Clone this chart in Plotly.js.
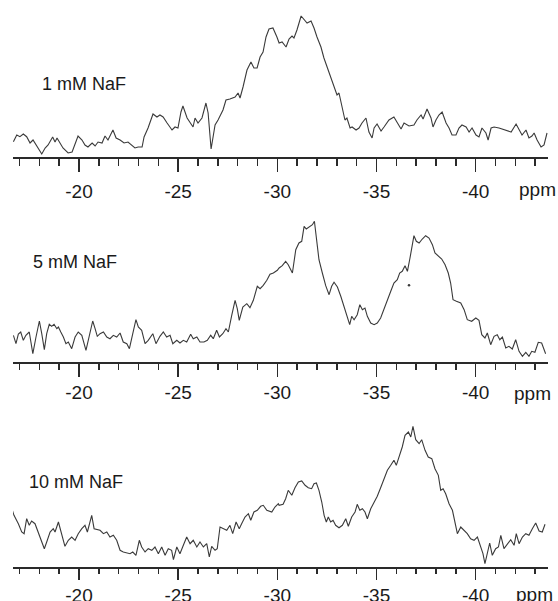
<!DOCTYPE html>
<html>
<head>
<meta charset="utf-8">
<script src="https://cdn.plot.ly/plotly-3.0.1.min.js"></script>
<style>html,body{margin:0;padding:0;background:#fff;}#chart{width:558px;height:601px;}</style>
</head>
<body>
<div id="chart"></div>
<script>
// Spectrum 1 mM NaF: chemical shift (ppm) and intensity (a.u.)
const ppm1 = [-16.69,-16.86,-17.02,-17.19,-17.36,-17.53,-17.68,-17.87,-18.12,-18.29,-18.44,-18.67,-18.79,-18.89,-19.04,-19.19,-19.45,-19.65,-19.95,-20.15,-20.30,-20.45,-20.66,-20.81,-20.96,-21.16,-21.31,-21.46,-21.71,-21.87,-22.07,-22.27,-22.47,-22.67,-22.82,-22.98,-23.18,-23.28,-23.48,-23.73,-23.93,-24.08,-24.24,-24.44,-24.69,-24.84,-24.99,-25.14,-25.24,-25.45,-25.60,-25.75,-25.85,-26.00,-26.20,-26.40,-26.51,-26.66,-26.86,-27.01,-27.26,-27.41,-27.61,-27.87,-28.02,-28.12,-28.27,-28.47,-28.67,-28.82,-28.98,-29.13,-29.28,-29.43,-29.58,-29.78,-29.98,-30.09,-30.24,-30.44,-30.59,-30.74,-30.84,-30.99,-31.20,-31.30,-31.40,-31.50,-31.70,-31.85,-32.00,-32.20,-32.35,-32.51,-32.71,-32.86,-33.01,-33.11,-33.26,-33.41,-33.51,-33.67,-33.77,-33.97,-34.12,-34.27,-34.47,-34.62,-34.78,-34.88,-35.03,-35.23,-35.38,-35.63,-35.88,-36.04,-36.24,-36.39,-36.64,-36.89,-37.04,-37.25,-37.35,-37.55,-37.75,-37.85,-38.00,-38.15,-38.31,-38.51,-38.66,-38.81,-39.01,-39.16,-39.31,-39.52,-39.67,-39.82,-40.02,-40.17,-40.32,-40.52,-40.63,-40.78,-40.93,-41.18,-41.53,-41.79,-42.04,-42.19,-42.34,-42.54,-42.69,-42.84,-42.95,-43.10,-43.30,-43.45,-43.60];
const int1 = [15.3,22,20.3,23,20.3,14,17,10.3,3,9,12,20,15,19,14,9,4,5,21,17,12,10,14,11,15,14,21,17,27,19,17,14,15,11,9,10,10,20,29,43,40,42,40,34,27,30,29,45,51,39,35,30,39,34,39,54,44,8,32,37,47,57,58,60,64,59,70,87,95,89,89,100,105,120,128,129,120,114,115,110,118,121,119,127,141,139,137,134,136,129,120,110,99,90,80,70,62,64,50,37,39,29,30,27,29,34,39,25,19,29,33,26,30,37,40,34,28,34,31,32,37,42,38,48,39,30,37,42,45,34,29,22,22,29,32,30,25,29,22,20,29,24,17,29,30,29,27,25,33,27,22,27,19,21,24,17,10,12,24];

// Spectrum 5 mM NaF
const ppm2 = [-16.69,-16.82,-16.94,-17.06,-17.19,-17.32,-17.49,-17.67,-17.83,-18.00,-18.12,-18.25,-18.37,-18.50,-18.62,-18.74,-18.88,-18.96,-19.08,-19.21,-19.34,-19.46,-19.63,-19.80,-19.96,-20.14,-20.35,-20.52,-20.69,-20.81,-20.92,-21.06,-21.23,-21.40,-21.56,-21.73,-21.90,-22.07,-22.23,-22.41,-22.54,-22.71,-22.87,-22.99,-23.16,-23.33,-23.49,-23.72,-23.88,-24.08,-24.25,-24.42,-24.59,-24.73,-24.93,-25.09,-25.26,-25.43,-25.63,-25.76,-25.94,-26.10,-26.30,-26.47,-26.64,-26.77,-26.94,-27.08,-27.25,-27.41,-27.53,-27.70,-27.87,-27.98,-28.08,-28.26,-28.46,-28.62,-28.79,-28.99,-29.13,-29.29,-29.47,-29.63,-29.80,-30.00,-30.09,-30.25,-30.42,-30.55,-30.76,-30.93,-31.09,-31.23,-31.35,-31.46,-31.63,-31.77,-31.87,-31.97,-32.10,-32.27,-32.44,-32.61,-32.74,-32.86,-33.03,-33.20,-33.36,-33.50,-33.65,-33.75,-33.87,-34.03,-34.16,-34.29,-34.42,-34.54,-34.71,-34.88,-35.04,-35.21,-35.38,-35.55,-35.72,-35.88,-36.05,-36.17,-36.30,-36.44,-36.56,-36.69,-36.81,-36.89,-37.01,-37.15,-37.31,-37.48,-37.65,-37.82,-37.95,-38.12,-38.29,-38.46,-38.62,-38.74,-38.86,-39.03,-39.25,-39.42,-39.58,-39.80,-40.01,-40.17,-40.31,-40.47,-40.59,-40.76,-40.93,-41.09,-41.22,-41.35,-41.52,-41.68,-41.85,-42.02,-42.19,-42.36,-42.53,-42.69,-42.83,-42.99,-43.16,-43.33,-43.53];
const int2 = [26.7,18.3,28,30,21.7,26.7,30,8.3,25,41,28.3,12.3,28.3,37.7,35.7,37.7,33.3,35,30,25,18.3,20,13.3,25,30,26.7,11.7,25,41,33.3,25.7,28.3,30,25,23.3,26.7,25,29,20,18.3,13.3,28.3,42.3,35,31.7,18.3,21.7,28.3,18.3,25.7,30,25,26.7,18.3,21.7,19,21.7,20,27.7,23.3,25,20,20,21.7,26.7,23.3,31.7,25,28.3,33.3,30,46.7,61.7,53.3,41.7,55,58.3,54.3,61.7,75.7,73.3,76.7,81.7,87.7,89,91.7,94,96.3,100.7,97.3,89,112.3,119,120.7,135.7,133,135,137.3,140.7,122.3,102.3,89,76.3,67.3,75.7,79.7,75,65.7,55.7,47.3,37.3,45.7,42.3,47.3,57.3,52.3,54,45.7,39,37.3,39,44,52.3,62.3,70.7,79,82.3,89,90.7,96.3,90.7,104,115.7,126.3,120.7,119,123,126.3,124,117.3,109,106.3,103,97.3,89,79,62.3,60.7,59,52.3,42.3,40.7,44,41.7,27.3,24,29,17.3,25.7,27.3,22.3,25,14,15.7,13,22.3,10.7,5.7,9.7,5.7,10.7,9.7,19.7,19,8.3];
// isolated speck seen in the 5 mM trace
const specPpm2 = [-36.64];
const specInt2 = [76.7];

// Spectrum 10 mM NaF
const ppm3 = [-16.61,-16.72,-16.94,-17.11,-17.23,-17.36,-17.49,-17.61,-17.78,-17.94,-18.12,-18.25,-18.37,-18.54,-18.70,-18.79,-18.96,-19.13,-19.29,-19.46,-19.63,-19.80,-19.96,-20.14,-20.30,-20.42,-20.52,-20.64,-20.76,-20.89,-21.06,-21.23,-21.40,-21.56,-21.73,-21.90,-22.07,-22.23,-22.41,-22.57,-22.71,-22.87,-23.04,-23.16,-23.33,-23.49,-23.67,-23.83,-24.00,-24.17,-24.34,-24.50,-24.67,-24.76,-24.93,-25.09,-25.26,-25.43,-25.60,-25.76,-25.94,-26.10,-26.27,-26.44,-26.57,-26.69,-26.86,-26.97,-27.11,-27.28,-27.45,-27.61,-27.75,-27.92,-28.08,-28.20,-28.37,-28.54,-28.66,-28.82,-28.99,-29.16,-29.29,-29.47,-29.72,-29.88,-30.05,-30.09,-30.29,-30.42,-30.55,-30.73,-30.89,-31.06,-31.23,-31.40,-31.56,-31.73,-31.85,-31.97,-32.10,-32.24,-32.36,-32.47,-32.57,-32.69,-32.81,-32.94,-33.11,-33.28,-33.45,-33.58,-33.75,-33.92,-34.03,-34.16,-34.29,-34.42,-34.54,-34.71,-34.88,-35.04,-35.21,-35.38,-35.55,-35.72,-35.88,-36.00,-36.14,-36.30,-36.44,-36.61,-36.73,-36.84,-36.98,-37.15,-37.28,-37.45,-37.61,-37.79,-37.95,-38.12,-38.24,-38.36,-38.49,-38.66,-38.83,-38.96,-39.08,-39.25,-39.42,-39.58,-39.75,-39.92,-40.09,-40.26,-40.37,-40.47,-40.59,-40.71,-40.84,-41.01,-41.15,-41.27,-41.43,-41.60,-41.77,-41.94,-42.05,-42.19,-42.36,-42.53,-42.69,-42.86,-43.03,-43.20,-43.36,-43.50];
const int3 = [58.3,51.7,43.3,35,33.3,48.3,41.7,46,43.3,35,26.7,18.3,25,35,38.3,35,45,33.3,20.7,26.7,30,26.7,33.3,38.3,41.7,35,41.7,51.7,38.3,37.3,36.7,33.3,35,30,31.7,26.7,16.7,15,14,13.3,15,11.7,26.7,20,15,18.3,16.7,20,13.3,20,11.7,18.3,16.7,7.3,20,13.3,21.7,30,23.3,26.7,20,25,20,23.3,10,20.7,16.7,18.3,40,38.3,36.7,41.7,33.3,45,38.3,43.3,50,53.3,46.7,55,56.7,60.7,61.7,56.7,55,60,63.3,61.7,62.7,68.3,76.7,71.7,79.3,85,86,81.7,79.3,78.3,83.3,84,76.7,65,51.7,45,50,45,46.7,41.7,39.3,41.7,48.3,40.7,50,55,62.7,56.7,58.3,55,48.3,58.3,65,70.7,79.3,88.3,96.7,101.7,106.7,101.7,110,120,131.7,135,130,140.7,127.3,123.3,127.3,116.7,110,108.3,98.3,91.7,76.7,78.3,73.3,63.3,56.7,43.3,33.3,40,36.7,33.3,28.3,26.7,30,20,13.3,3.3,13.3,24,11.7,18.3,20,31.7,18.3,23.3,27.3,21.7,33.3,23.3,30,33.3,31.7,38.3,44,36,35,42.7];

const tickVals = [-20,-25,-30,-35,-40];
const tickLabels = ['-20','-25','-30','-35','-40'];
const sampleLabels = ['1 mM NaF','5 mM NaF','10 mM NaF'];
const unitLabel = 'ppm';

const W = 558, H = 601;
const FONT = 'Liberation Sans, Arial, Helvetica, sans-serif';
const lineColor = '#3a3a3a';
const inkColor = '#1a1a1a';

// panels: pixel position of axis baseline and top of panel, label placement
const panels = [
  {base:157, top:10, labelY:84, labelX:40, tickLen:13, minorLen:7, standoff:4, unitX:537, unitY:190},
  {base:362, top:210, labelY:262, labelX:31, tickLen:13, minorLen:6, standoff:0, unitX:532, unitY:393},
  {base:567, top:415, labelY:482, labelX:27, tickLen:11, minorLen:5, standoff:0, unitX:534, unitY:594}
];
const xs = [ppm1, ppm2, ppm3];
const ys = [int1, int2, int3];

const traces = [];
const layout = {
  width: W, height: H,
  margin: {l:13, r:10, t:0, b:0, pad:0},
  paper_bgcolor:'#fff', plot_bgcolor:'#fff',
  showlegend:false,
  font:{family:FONT, color:inkColor},
  annotations: []
};

panels.forEach((p, i) => {
  const n = i === 0 ? '' : String(i+1);
  traces.push({
    x: xs[i], y: ys[i], type:'scatter', mode:'lines',
    line:{color:lineColor, width:1.1, shape:'linear'},
    xaxis:'x'+n, yaxis:'y'+n, hoverinfo:'skip'
  });
  layout['xaxis'+n] = {
    range:[-16.67,-43.65], anchor:'y'+n, domain:[0,1],
    showgrid:false, zeroline:false, showline:true, linecolor:'#2a2a2a', linewidth:1.5,
    ticks:'outside', ticklen:p.tickLen, tickwidth:1.6, tickcolor:'#2a2a2a',
    ticklabelstandoff:p.standoff,
    tickmode:'array', tickvals:tickVals, ticktext:tickLabels,
    tickfont:{family:FONT, size:19, color:inkColor},
    minor:{dtick:1, tick0:-20, ticklen:p.minorLen, tickwidth:1.5, tickcolor:'#2a2a2a', ticks:'outside', showgrid:false},
    fixedrange:true
  };
  layout['yaxis'+n] = {
    domain:[1 - p.base/H, 1 - p.top/H],
    range:[0, p.base - p.top],
    visible:false, showgrid:false, zeroline:false, fixedrange:true
  };
  layout.annotations.push({
    xref:'paper', yref:'paper',
    x:(p.labelX - 13)/(W - 23), y:1 - p.labelY/H,
    xanchor:'left', yanchor:'middle', showarrow:false,
    text:sampleLabels[i], font:{family:FONT, size:18, color:inkColor}
  });
  layout.annotations.push({
    xref:'paper', yref:'paper',
    x:(p.unitX - 13)/(W - 23), y:1 - p.unitY/H,
    xanchor:'center', yanchor:'middle', showarrow:false,
    text:unitLabel, font:{family:FONT, size:19, color:inkColor}
  });
});

traces.push({
  x: specPpm2, y: specInt2, type:'scatter', mode:'markers',
  marker:{color:lineColor, size:2.5}, xaxis:'x2', yaxis:'y2', hoverinfo:'skip'
});

Plotly.newPlot('chart', traces, layout, {staticPlot:true, displayModeBar:false});
</script>
</body>
</html>
